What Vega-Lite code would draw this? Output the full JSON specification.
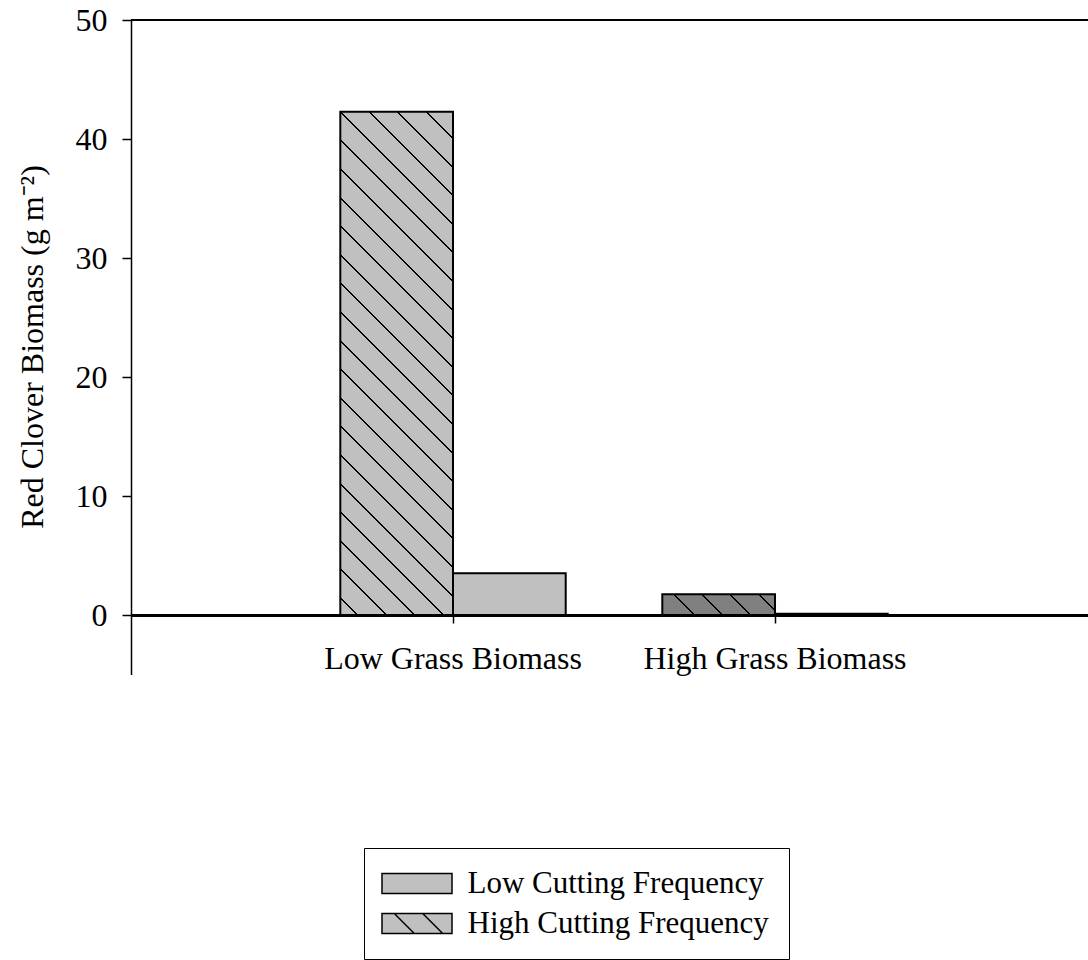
{
  "$schema": "https://vega.github.io/schema/vega-lite/v6.json",
  "width": 957,
  "height": 654.5,
  "autosize": {"type": "none"},
  "padding": {"left": 131, "top": 20, "right": 0, "bottom": 285},
  "background": "white",
  "config": {
    "font": "Liberation Serif",
    "view": {"stroke": null},
    "axis": {"grid": false}
  },
  "data": {
    "values": [
      {"grass": "Low Grass Biomass", "cut": "High Cutting Frequency", "biomass": 42.3},
      {"grass": "Low Grass Biomass", "cut": "Low Cutting Frequency", "biomass": 3.5},
      {"grass": "High Grass Biomass", "cut": "High Cutting Frequency", "biomass": 1.74},
      {"grass": "High Grass Biomass", "cut": "Low Cutting Frequency", "biomass": 0.1}
    ]
  },
  "layer": [
    {
      "mark": {"type": "bar", "stroke": "black", "strokeWidth": 2},
      "encoding": {
        "x": {
          "field": "grass",
          "type": "nominal",
          "sort": ["Low Grass Biomass", "High Grass Biomass"],
          "scale": {"domain": ["Low Grass Biomass", "High Grass Biomass"], "paddingInner": 0.3, "paddingOuter": 0.636, "align": 0.511},
          "axis": {
            "title": null,
            "orient": "bottom",
            "offset": -59.5,
            "domain": true,
            "domainColor": "black",
            "domainWidth": 3,
            "ticks": true,
            "tickColor": "black",
            "tickWidth": 1.5,
            "tickSize": 8,
            "labelAngle": 0,
            "labelFont": "Liberation Serif",
            "labelFontSize": 32,
            "labelColor": "black",
            "labelPadding": 20,
            "labelLimit": 0
          }
        },
        "xOffset": {
          "field": "cut",
          "type": "nominal",
          "scale": {"domain": ["High Cutting Frequency", "Low Cutting Frequency"], "paddingInner": 0, "paddingOuter": 0}
        },
        "y": {
          "field": "biomass",
          "type": "quantitative",
          "scale": {"domain": [-5, 50], "nice": false, "zero": false},
          "axis": {
            "values": [0, 10, 20, 30, 40, 50],
            "title": "Red Clover Biomass (g m⁻²)",
            "titleFont": "Liberation Serif",
            "titleFontSize": 32,
            "titleFontWeight": "normal",
            "titleColor": "black",
            "titleX": -82,
            "titleY": 326.5,
            "titleAngle": -90,
            "titleBaseline": "bottom",
            "titleAlign": "center",
            "domainColor": "black",
            "domainWidth": 1.5,
            "tickColor": "black",
            "tickWidth": 1.5,
            "tickSize": 9,
            "labelFont": "Liberation Serif",
            "labelFontSize": 32,
            "labelColor": "black",
            "labelPadding": 15
          }
        },
        "fill": {
          "field": "cut",
          "type": "nominal",
          "scale": {"domain": ["Low Cutting Frequency", "High Cutting Frequency"], "range": ["#c0c0c0", "#c0c0c0"]},
          "condition": [
            {
              "test": "datum.grass === 'Low Grass Biomass' && datum.cut === 'High Cutting Frequency'",
              "value": {
                "gradient": "linear", "x1": 0, "y1": 1, "x2": 0.2609, "y2": -0.1655,
                "stops": [
                  {"offset": 0, "color": "#c0c0c0"},
                  {"offset": 0.0263, "color": "#c0c0c0"}, {"offset": 0.0263, "color": "black"}, {"offset": 0.0295, "color": "black"}, {"offset": 0.0295, "color": "#c0c0c0"},
                  {"offset": 0.0727, "color": "#c0c0c0"}, {"offset": 0.0727, "color": "black"}, {"offset": 0.0759, "color": "black"}, {"offset": 0.0759, "color": "#c0c0c0"},
                  {"offset": 0.1192, "color": "#c0c0c0"}, {"offset": 0.1192, "color": "black"}, {"offset": 0.1224, "color": "black"}, {"offset": 0.1224, "color": "#c0c0c0"},
                  {"offset": 0.1656, "color": "#c0c0c0"}, {"offset": 0.1656, "color": "black"}, {"offset": 0.1688, "color": "black"}, {"offset": 0.1688, "color": "#c0c0c0"},
                  {"offset": 0.2120, "color": "#c0c0c0"}, {"offset": 0.2120, "color": "black"}, {"offset": 0.2152, "color": "black"}, {"offset": 0.2152, "color": "#c0c0c0"},
                  {"offset": 0.2584, "color": "#c0c0c0"}, {"offset": 0.2584, "color": "black"}, {"offset": 0.2616, "color": "black"}, {"offset": 0.2616, "color": "#c0c0c0"},
                  {"offset": 0.3048, "color": "#c0c0c0"}, {"offset": 0.3048, "color": "black"}, {"offset": 0.3080, "color": "black"}, {"offset": 0.3080, "color": "#c0c0c0"},
                  {"offset": 0.3513, "color": "#c0c0c0"}, {"offset": 0.3513, "color": "black"}, {"offset": 0.3545, "color": "black"}, {"offset": 0.3545, "color": "#c0c0c0"},
                  {"offset": 0.3977, "color": "#c0c0c0"}, {"offset": 0.3977, "color": "black"}, {"offset": 0.4009, "color": "black"}, {"offset": 0.4009, "color": "#c0c0c0"},
                  {"offset": 0.4441, "color": "#c0c0c0"}, {"offset": 0.4441, "color": "black"}, {"offset": 0.4473, "color": "black"}, {"offset": 0.4473, "color": "#c0c0c0"},
                  {"offset": 0.4905, "color": "#c0c0c0"}, {"offset": 0.4905, "color": "black"}, {"offset": 0.4937, "color": "black"}, {"offset": 0.4937, "color": "#c0c0c0"},
                  {"offset": 0.5370, "color": "#c0c0c0"}, {"offset": 0.5370, "color": "black"}, {"offset": 0.5402, "color": "black"}, {"offset": 0.5402, "color": "#c0c0c0"},
                  {"offset": 0.5834, "color": "#c0c0c0"}, {"offset": 0.5834, "color": "black"}, {"offset": 0.5866, "color": "black"}, {"offset": 0.5866, "color": "#c0c0c0"},
                  {"offset": 0.6298, "color": "#c0c0c0"}, {"offset": 0.6298, "color": "black"}, {"offset": 0.6330, "color": "black"}, {"offset": 0.6330, "color": "#c0c0c0"},
                  {"offset": 0.6762, "color": "#c0c0c0"}, {"offset": 0.6762, "color": "black"}, {"offset": 0.6794, "color": "black"}, {"offset": 0.6794, "color": "#c0c0c0"},
                  {"offset": 0.7226, "color": "#c0c0c0"}, {"offset": 0.7226, "color": "black"}, {"offset": 0.7258, "color": "black"}, {"offset": 0.7258, "color": "#c0c0c0"},
                  {"offset": 0.7691, "color": "#c0c0c0"}, {"offset": 0.7691, "color": "black"}, {"offset": 0.7723, "color": "black"}, {"offset": 0.7723, "color": "#c0c0c0"},
                  {"offset": 0.8155, "color": "#c0c0c0"}, {"offset": 0.8155, "color": "black"}, {"offset": 0.8187, "color": "black"}, {"offset": 0.8187, "color": "#c0c0c0"},
                  {"offset": 0.8619, "color": "#c0c0c0"}, {"offset": 0.8619, "color": "black"}, {"offset": 0.8651, "color": "black"}, {"offset": 0.8651, "color": "#c0c0c0"},
                  {"offset": 0.9083, "color": "#c0c0c0"}, {"offset": 0.9083, "color": "black"}, {"offset": 0.9115, "color": "black"}, {"offset": 0.9115, "color": "#c0c0c0"},
                  {"offset": 0.9547, "color": "#c0c0c0"}, {"offset": 0.9547, "color": "black"}, {"offset": 0.9579, "color": "black"}, {"offset": 0.9579, "color": "#c0c0c0"},
                  {"offset": 1, "color": "#c0c0c0"}
                ]
              }
            },
            {
              "test": "datum.grass === 'High Grass Biomass' && datum.cut === 'High Cutting Frequency'",
              "value": {
                "gradient": "linear", "x1": 0, "y1": 1, "x2": 1.1451, "y2": 0.7897,
                "stops": [
                  {"offset": 0, "color": "#808080"},
                  {"offset": 0.2301, "color": "#808080"}, {"offset": 0.2301, "color": "black"}, {"offset": 0.2451, "color": "black"}, {"offset": 0.2451, "color": "#808080"},
                  {"offset": 0.4430, "color": "#808080"}, {"offset": 0.4430, "color": "black"}, {"offset": 0.4580, "color": "black"}, {"offset": 0.4580, "color": "#808080"},
                  {"offset": 0.6552, "color": "#808080"}, {"offset": 0.6552, "color": "black"}, {"offset": 0.6702, "color": "black"}, {"offset": 0.6702, "color": "#808080"},
                  {"offset": 0.8673, "color": "#808080"}, {"offset": 0.8673, "color": "black"}, {"offset": 0.8823, "color": "black"}, {"offset": 0.8823, "color": "#808080"},
                  {"offset": 1, "color": "#808080"}
                ]
              }
            }
          ]
        }
      }
    },
    {
      "mark": {"type": "point", "filled": true, "clip": true, "size": 400, "opacity": 1, "strokeWidth": 1.5},
      "encoding": {
        "x": {
          "field": "grass",
          "type": "nominal",
          "sort": ["Low Grass Biomass", "High Grass Biomass"],
          "scale": {"domain": ["Low Grass Biomass", "High Grass Biomass"], "paddingInner": 0.3, "paddingOuter": 0.636, "align": 0.511}
        },
        "xOffset": {
          "field": "cut",
          "type": "nominal",
          "scale": {"domain": ["High Cutting Frequency", "Low Cutting Frequency"], "paddingInner": 0, "paddingOuter": 0}
        },
        "y": {"datum": -50, "type": "quantitative"},
        "fill": {
          "field": "cut",
          "type": "nominal",
          "scale": {"domain": ["Low Cutting Frequency", "High Cutting Frequency"], "range": ["#c0c0c0", "#c0c0c0"]},
          "legend": {
            "orient": "none",
            "legendX": 233,
            "legendY": 828,
            "title": null,
            "padding": 20,
            "strokeColor": "black",
            "fillColor": "white",
            "symbolSize": 400,
            "symbolStrokeWidth": 1.5,
            "symbolOpacity": 1,
            "symbolOffset": 17.5,
            "labelOffset": 35,
            "labelFont": "Liberation Serif",
            "labelFontSize": 31,
            "labelColor": "black",
            "labelLimit": 0,
            "rowPadding": 8
          }
        },
        "shape": {
          "field": "cut",
          "type": "nominal",
          "scale": {
            "domain": ["Low Cutting Frequency", "High Cutting Frequency"],
            "range": ["M-3.5,-1L3.5,-1L3.5,1L-3.5,1Z", "M-3.5,-1L3.5,-1L3.5,1L-3.5,1Z M-2.27,-1L-0.27,1 M0.57,-1L2.57,1"]
          }
        },
        "stroke": {
          "field": "cut",
          "type": "nominal",
          "scale": {"domain": ["Low Cutting Frequency", "High Cutting Frequency"], "range": ["black", "black"]}
        }
      }
    },
    {
      "mark": {"type": "rule", "stroke": "black", "strokeWidth": 2},
      "encoding": {
        "y": {"datum": 50, "type": "quantitative"}
      }
    }
  ]
}
